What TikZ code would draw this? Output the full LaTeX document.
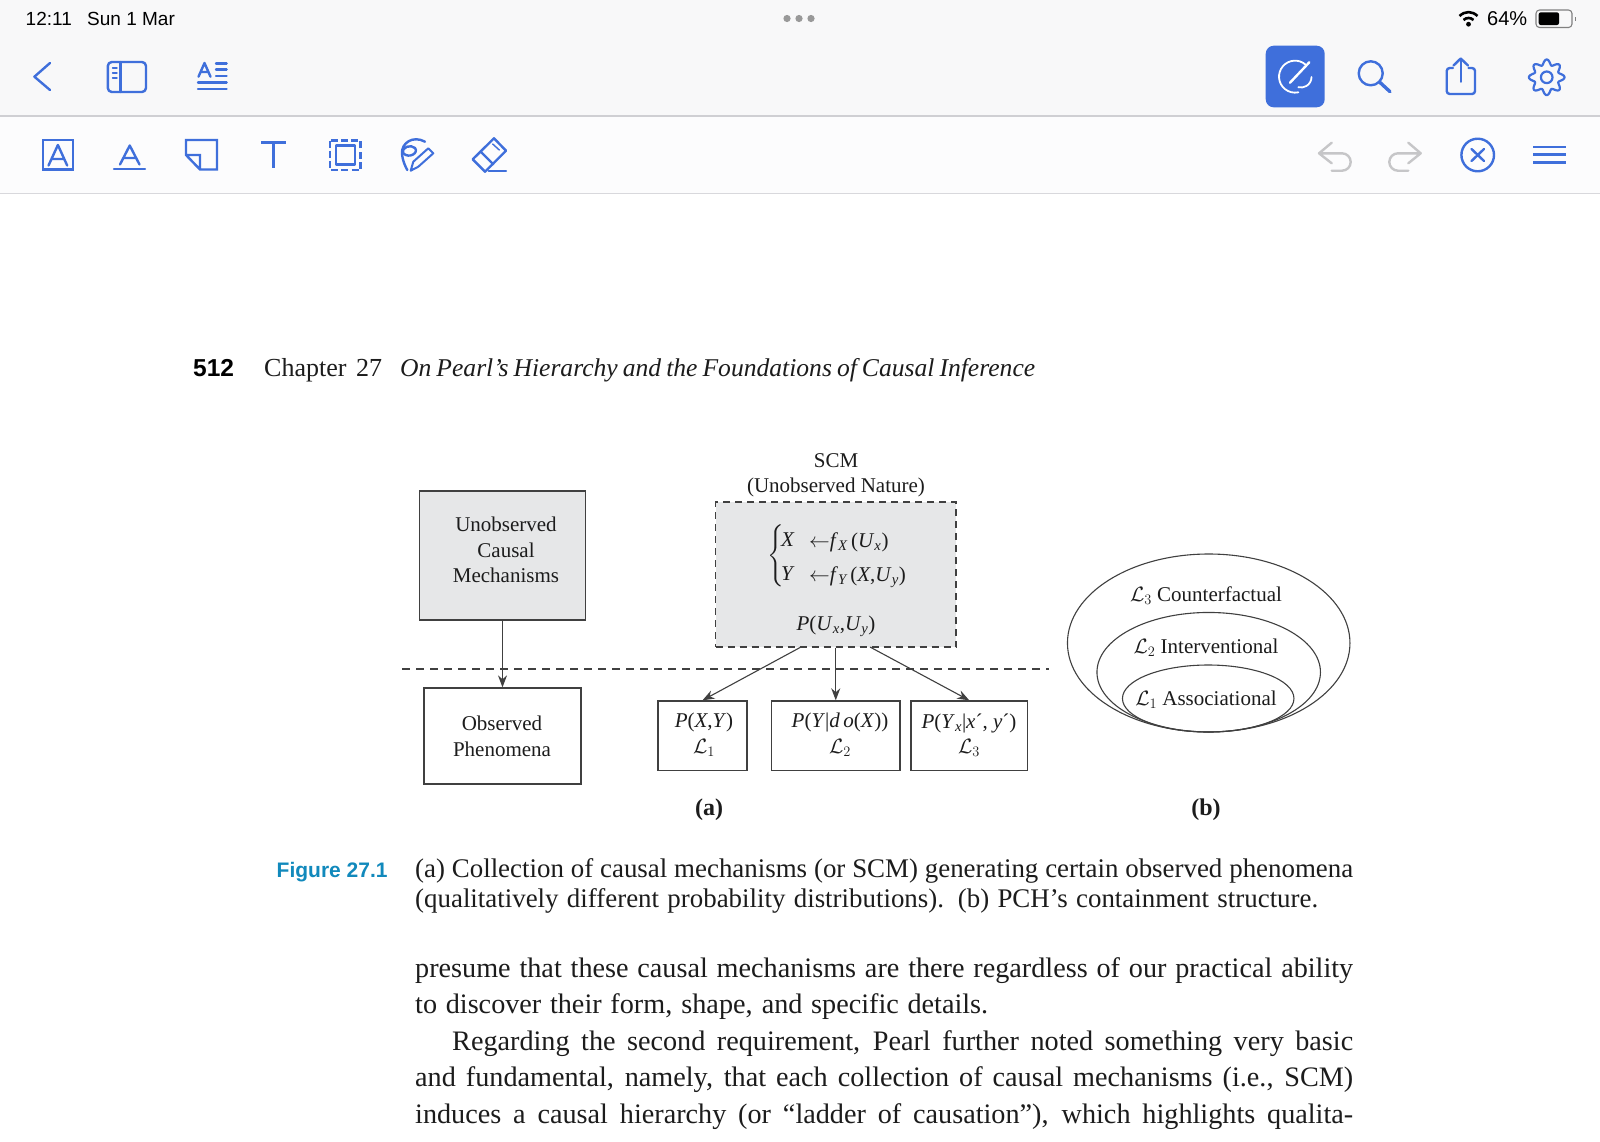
\documentclass[tikz,border=0pt]{standalone}
\usepackage{amsmath}
\usepackage{fontspec}
\setmainfont{Liberation Serif}
\setsansfont{Liberation Sans}
\usepackage{xcolor}
\usetikzlibrary{shapes.geometric,positioning,arrows.meta}
\definecolor{barbg}{HTML}{F8F8F9}
\definecolor{barline}{HTML}{CFCFD3}
\definecolor{icon}{HTML}{3F6FDB}
\definecolor{iconoff}{HTML}{C6C6C8}
\definecolor{boxgray}{HTML}{E6E7E8}
\definecolor{ink}{HTML}{1C1C1C}
\definecolor{boxline}{HTML}{404040}
\definecolor{figteal}{HTML}{1189BC}
\newcommand{\fs}[1]{\fontsize{#1}{#1}\selectfont}
\newcommand{\tline}[2]{\makebox[#1pt][s]{#2}}
\newcommand{\sbit}[1]{$_{\textit{#1}}$}
\begin{document}
\begin{tikzpicture}[x=1pt,y=-1pt]
  \tikzset{ bar/.style={anchor=base west,inner sep=0pt,black,font=\sffamily\fs{19}},
    ic/.style={draw=icon,line width=2.4pt,line cap=round,line join=round},
    off/.style={draw=iconoff,line width=2.4pt,line cap=round,line join=round},
    wht/.style={draw=white,line width=1.8pt,line cap=round},
    body/.style={anchor=base west,inner sep=0pt,text=ink,font=\fs{28.2}},
    capt/.style={anchor=base west,inner sep=0pt,text=ink,font=\fs{26.9}},
    fbox/.style={draw=boxline,line width=1.3pt,inner sep=0pt},
    lab/.style={align=center,inner sep=0pt,text=ink,font=\fontsize{21}{25.5}\selectfont},
    sep/.style={draw=boxline,line width=1.2pt,dash pattern=on 8pt off 6pt},
    arr/.style={draw=boxline,line width=1.1pt,-{Stealth[length=12pt,width=9pt]}},
    ell/.style={ellipse,draw=boxline,line width=1.1pt,inner sep=0pt},
  }
  \useasboundingbox (0,0) rectangle (1600,1141);
  \fill[white] (0,0) rectangle (1600,1141);
  \fill[barbg] (0,0) rectangle (1600,116);
  \fill[white!60!barbg] (0,116) rectangle (1600,193);
  \draw[barline,line width=1.2pt] (0,116) -- (1600,116);
  \draw[barline!80!white,line width=1pt] (0,193.5) -- (1600,193.5);

  % status bar
  \node[bar] (clock) at (25.5,25) {12:11};
  \node[bar] (date) at (87,25) {Sun 1 Mar};
  \foreach \x in {787,799,811} \fill[gray!80] (\x,18.5) circle (3.6pt);
  \node[bar,font=\sffamily\fs{20}] (pct) at (1487,25.3) {64\%};
  \draw[black,line width=2.6pt] (1459.5,16) .. controls (1465,10.8) and (1472,10.8) .. (1477.5,16);
  \draw[black,line width=2.6pt] (1463.5,20) .. controls (1466.5,17.3) and (1470.5,17.3) .. (1473.5,20);
  \fill[black] (1468.5,24.2) circle (2.4pt);
  \draw[gray,line width=1.1pt,rounded corners=3.5pt] (1536,10) rectangle (1572,27.5);
  \fill[black,rounded corners=2pt] (1538.7,12.4) rectangle (1559,25);
  \fill[gray] (1574.5,16.5) rectangle (1576,21);

  % top row, left
  \draw[ic] (50,63) -- (34.4,76.7) -- (50,90);
  \draw[ic,rounded corners=4pt] (107.8,62) rectangle (146,92);
  \draw[ic] (120.5,62) -- (120.5,92);
  \foreach \y in {68,73,78} \draw[ic,line width=1.4pt] (112.6,\y) -- (117,\y);
  \draw[ic] (198.5,76.7) -- (204.5,63) -- (210.5,76.7) (200.8,72) -- (208.2,72);
  \foreach \y in {63.5,69.5,76} \draw[ic] (216,\y) -- (226.6,\y);
  \foreach \y in {82.5,88.7} \draw[ic] (198,\y) -- (226.6,\y);

  % top row, right
  \fill[icon,rounded corners=8pt] (1265.7,45.7) rectangle (1324.7,107.3);
  \draw[wht] (1305.3,64.4) arc[start angle=50,end angle=282,radius=16pt];
  \draw[wht] (1311.5,77) arc[start angle=0,end angle=-105,radius=10.5pt];
  \draw[wht,line width=2.4pt] (1290,82.7) -- (1309.3,62.3);
  \draw[ic] (1370.7,73.3) circle (12pt);
  \draw[ic,line width=3.4pt] (1379.5,82) -- (1390,91.7);
  \draw[ic,rounded corners=3pt] (1453,68) -- (1446.7,68) -- (1446.7,94) -- (1475,94) -- (1475,68) -- (1468.5,68);
  \draw[ic] (1460.7,81.7) -- (1460.7,59);
  \draw[ic] (1453.5,65.5) -- (1460.7,58.5) -- (1468,65.5);
  \draw[ic,line width=2.2pt] plot[domain=0:360,samples=145,smooth,shift={(1546.7,77.3)}] (\x:{15.2+2.6*cos(8*\x)}) -- cycle;
  \draw[ic,line width=2.2pt] (1546.7,77.3) circle (5.8pt);

  % second row, left
  \draw[ic,line cap=butt,line join=miter] (42.7,140) rectangle (73,169.5);
  \draw[ic] (48.5,165.5) -- (57.9,145) -- (67.2,165.5) (51.6,159) -- (64.2,159);
  \draw[ic] (120,164.5) -- (129.75,145.5) -- (139.5,164.5) (123.5,158) -- (136,158);
  \draw[ic] (114,169) -- (145,169);
  \draw[ic,line join=miter] (186,140) -- (217,140) -- (217,169.5) -- (200,169.5) -- (186,155) -- cycle (200,169.5) -- (200,155) -- (186,155);
  \draw[ic,line cap=butt,line width=3pt] (261,142) -- (286,142) (273.5,142) -- (273.5,168);
  \draw[ic,line cap=butt,dash pattern=on 7pt off 3.2pt] (330,140.5) rectangle (360.5,170);
  \draw[ic,line cap=butt] (335.7,145.5) rectangle (354.7,164.5);
  \draw[ic] (425,141.7) .. controls (413,135) and (401,143) .. (402,154) .. controls (402.5,160) and (405,166) .. (407.3,170);
  \draw[ic] (403.3,153.3) .. controls (401,147) and (411,144) .. (415,148) .. controls (419,153) and (409,159) .. (403.3,153.3);
  \draw[ic,line width=2pt] (410.7,170.7) -- (413.3,161.7) -- (428.3,148.3) -- (433.3,153.3) -- (418.3,166.7) -- cycle;
  \draw[ic] (494,138.3) -- (506,150.7) -- (485,171.7) -- (472.7,159.3) -- cycle;
  \draw[ic] (480.7,151.7) -- (493.3,164.3);
  \draw[ic,line width=1.4pt] (492.7,144) -- (499.3,150);
  \draw[ic] (488.7,170.7) -- (506,170.7);

  % second row, right
  \draw[off] (1331.7,142.7) -- (1319,153.3) -- (1331.7,163.3) (1319,153.3) -- (1342,153.3) arc[start angle=90,end angle=-90,radius=8.7pt] -- (1331.7,170.7);
  \draw[off] (1408.3,142.7) -- (1420.7,153.3) -- (1408.3,163.3) (1420.7,153.3) -- (1398,153.3) arc[start angle=90,end angle=270,radius=8.7pt] -- (1408.3,170.7);
  \draw[ic] (1477.7,155) circle (16.3pt);
  \draw[ic] (1471.5,149) -- (1484,161) (1484,149) -- (1471.5,161);
  \foreach \y in {146.7,154.3,162.3} \draw[ic,line cap=butt] (1533,\y) -- (1566,\y);

  % page header
  \node[body,font=\sffamily\bfseries\fs{24.5},text=black] (pageno) at (193,376) {512};
  \node[body,font=\fs{26}] (chap) at (264,376) {\tline{118}{Chapter 27}};
  \node[body,font=\itshape\fs{25.6}] (title) at (400,376) {\tline{635}{On Pearl's Hierarchy and the Foundations of Causal Inference}};

  % (a) left column
  \node[fbox,fill=boxgray,minimum width=166pt,minimum height=129pt] (mech) at (502.5,555.5) {};
  \node[lab] (mechtxt) at (506,550) {Unobserved\\Causal\\Mechanisms};
  \node[fbox,minimum width=157pt,minimum height=96pt] (obs) at (502.5,736) {};
  \node[lab] (obstxt) at (502,736.5) {Observed\\Phenomena};
  \draw[arr] (mech) -- (obs);
  \coordinate (sepL) at (402,669);
  \coordinate (sepR) at (1049,669);
  \draw[sep] (sepL) -- (sepR);

  % (a) scm
  \node[lab] (scmtxt) at (836,475.5) {SCM\\(Unobserved Nature)};
  \node[fbox,fill=boxgray,dash pattern=on 7pt off 5pt,minimum width=240.5pt,minimum height=145pt] (scm) at (835.75,574.5) {};
  \node[lab] (brace) at (776,556.5) {$\left\{\rule[-27pt]{0pt}{54pt}\right.$};
  \node[lab,anchor=base west] (eqX) at (781,546) {\textit{X}};
  \node[lab,anchor=base west] (eqY) at (781,580) {\textit{Y}};
  \node[lab,anchor=base west] (eqfx) at (809,547) {$\leftarrow$\textit{f}\sbit{X}\,(\textit{U}\sbit{x})};
  \node[lab,anchor=base west] (eqfy) at (809,581) {$\leftarrow$\textit{f}\sbit{Y}\,(\textit{X},\textit{U}\sbit{y})};
  \node[lab] (pu) at (836,626.5) {\textit{P}(\textit{U}\sbit{x},\textit{U}\sbit{y})};

  % the three distributions
  \node[fbox,minimum width=89pt,minimum height=69.5pt] (p1) at (702.5,735.7) {};
  \node[fbox,minimum width=128.5pt,minimum height=69.5pt] (p2) at (835.75,735.7) {};
  \node[fbox,minimum width=116.5pt,minimum height=69.5pt] (p3) at (969.2,735.7) {};
  \node[lab] (p1txt) at (704,735) {\textit{P}(\textit{X},\textit{Y})\\$\mathcal{L}_1$};
  \node[lab] (p2txt) at (840,735) {\textit{P}(\textit{Y}|\textit{d\,o}(\textit{X}))\\$\mathcal{L}_2$};
  \node[lab] (p3txt) at (969,735) {\textit{P}(\textit{Y}\sbit{x}|\textit{x}´, \textit{y}´)\\$\mathcal{L}_3$};
  \coordinate (scmL) at (801,647);
  \coordinate (scmR) at (870,647);
  \draw[arr] (scmL) -- (p1.north);
  \draw[arr] (scm) -- (p2);
  \draw[arr] (scmR) -- (p3.north);
  \node[lab,font=\bfseries\fs{24}] (parta) at (709,810) {(a)};

  % (b) containment
  \node[ell,minimum width=282.5pt,minimum height=178pt] (l3) at (1208.7,643) {};
  \node[ell,minimum width=223.5pt,minimum height=119.5pt] (l2) at (1208.7,672.2) {};
  \node[ell,minimum width=171.5pt,minimum height=67pt] (l1) at (1208.2,698.5) {};
  \node[lab] (l3txt) at (1206,596) {$\mathcal{L}_3$ Counterfactual};
  \node[lab] (l2txt) at (1206,648) {$\mathcal{L}_2$ Interventional};
  \node[lab] (l1txt) at (1206,699.5) {$\mathcal{L}_1$ Associational};
  \node[lab,font=\bfseries\fs{24}] (partb) at (1206,810) {(b)};

  % caption
  \node[body,font=\sffamily\bfseries\fs{21},text=figteal] (figno) at (276.5,877) {Figure 27.1};
  \node[capt] (cap1) at (415,877.5) {\tline{938}{(a) Collection of causal mechanisms (or SCM) generating certain observed phenomena}};
  \node[capt] (cap2) at (415,907.5) {\tline{903}{(qualitatively different probability distributions). (b) PCH's containment structure.}};

  % body text
  \node[body] (par1) at (415,977) {\tline{938}{presume that these causal mechanisms are there regardless of our practical ability}};
  \node[body] (par2) at (415,1013.5) {\tline{573}{to discover their form, shape, and specific details.}};
  \node[body] (par3) at (452,1050) {\tline{901}{Regarding the second requirement, Pearl further noted something very basic}};
  \node[body] (par4) at (415,1086.5) {\tline{938}{and fundamental, namely, that each collection of causal mechanisms (i.e., SCM)}};
  \node[body] (par5) at (415,1123) {\tline{938}{induces a causal hierarchy (or “ladder of causation”), which highlights qualita-}};
\end{tikzpicture}
\end{document}
